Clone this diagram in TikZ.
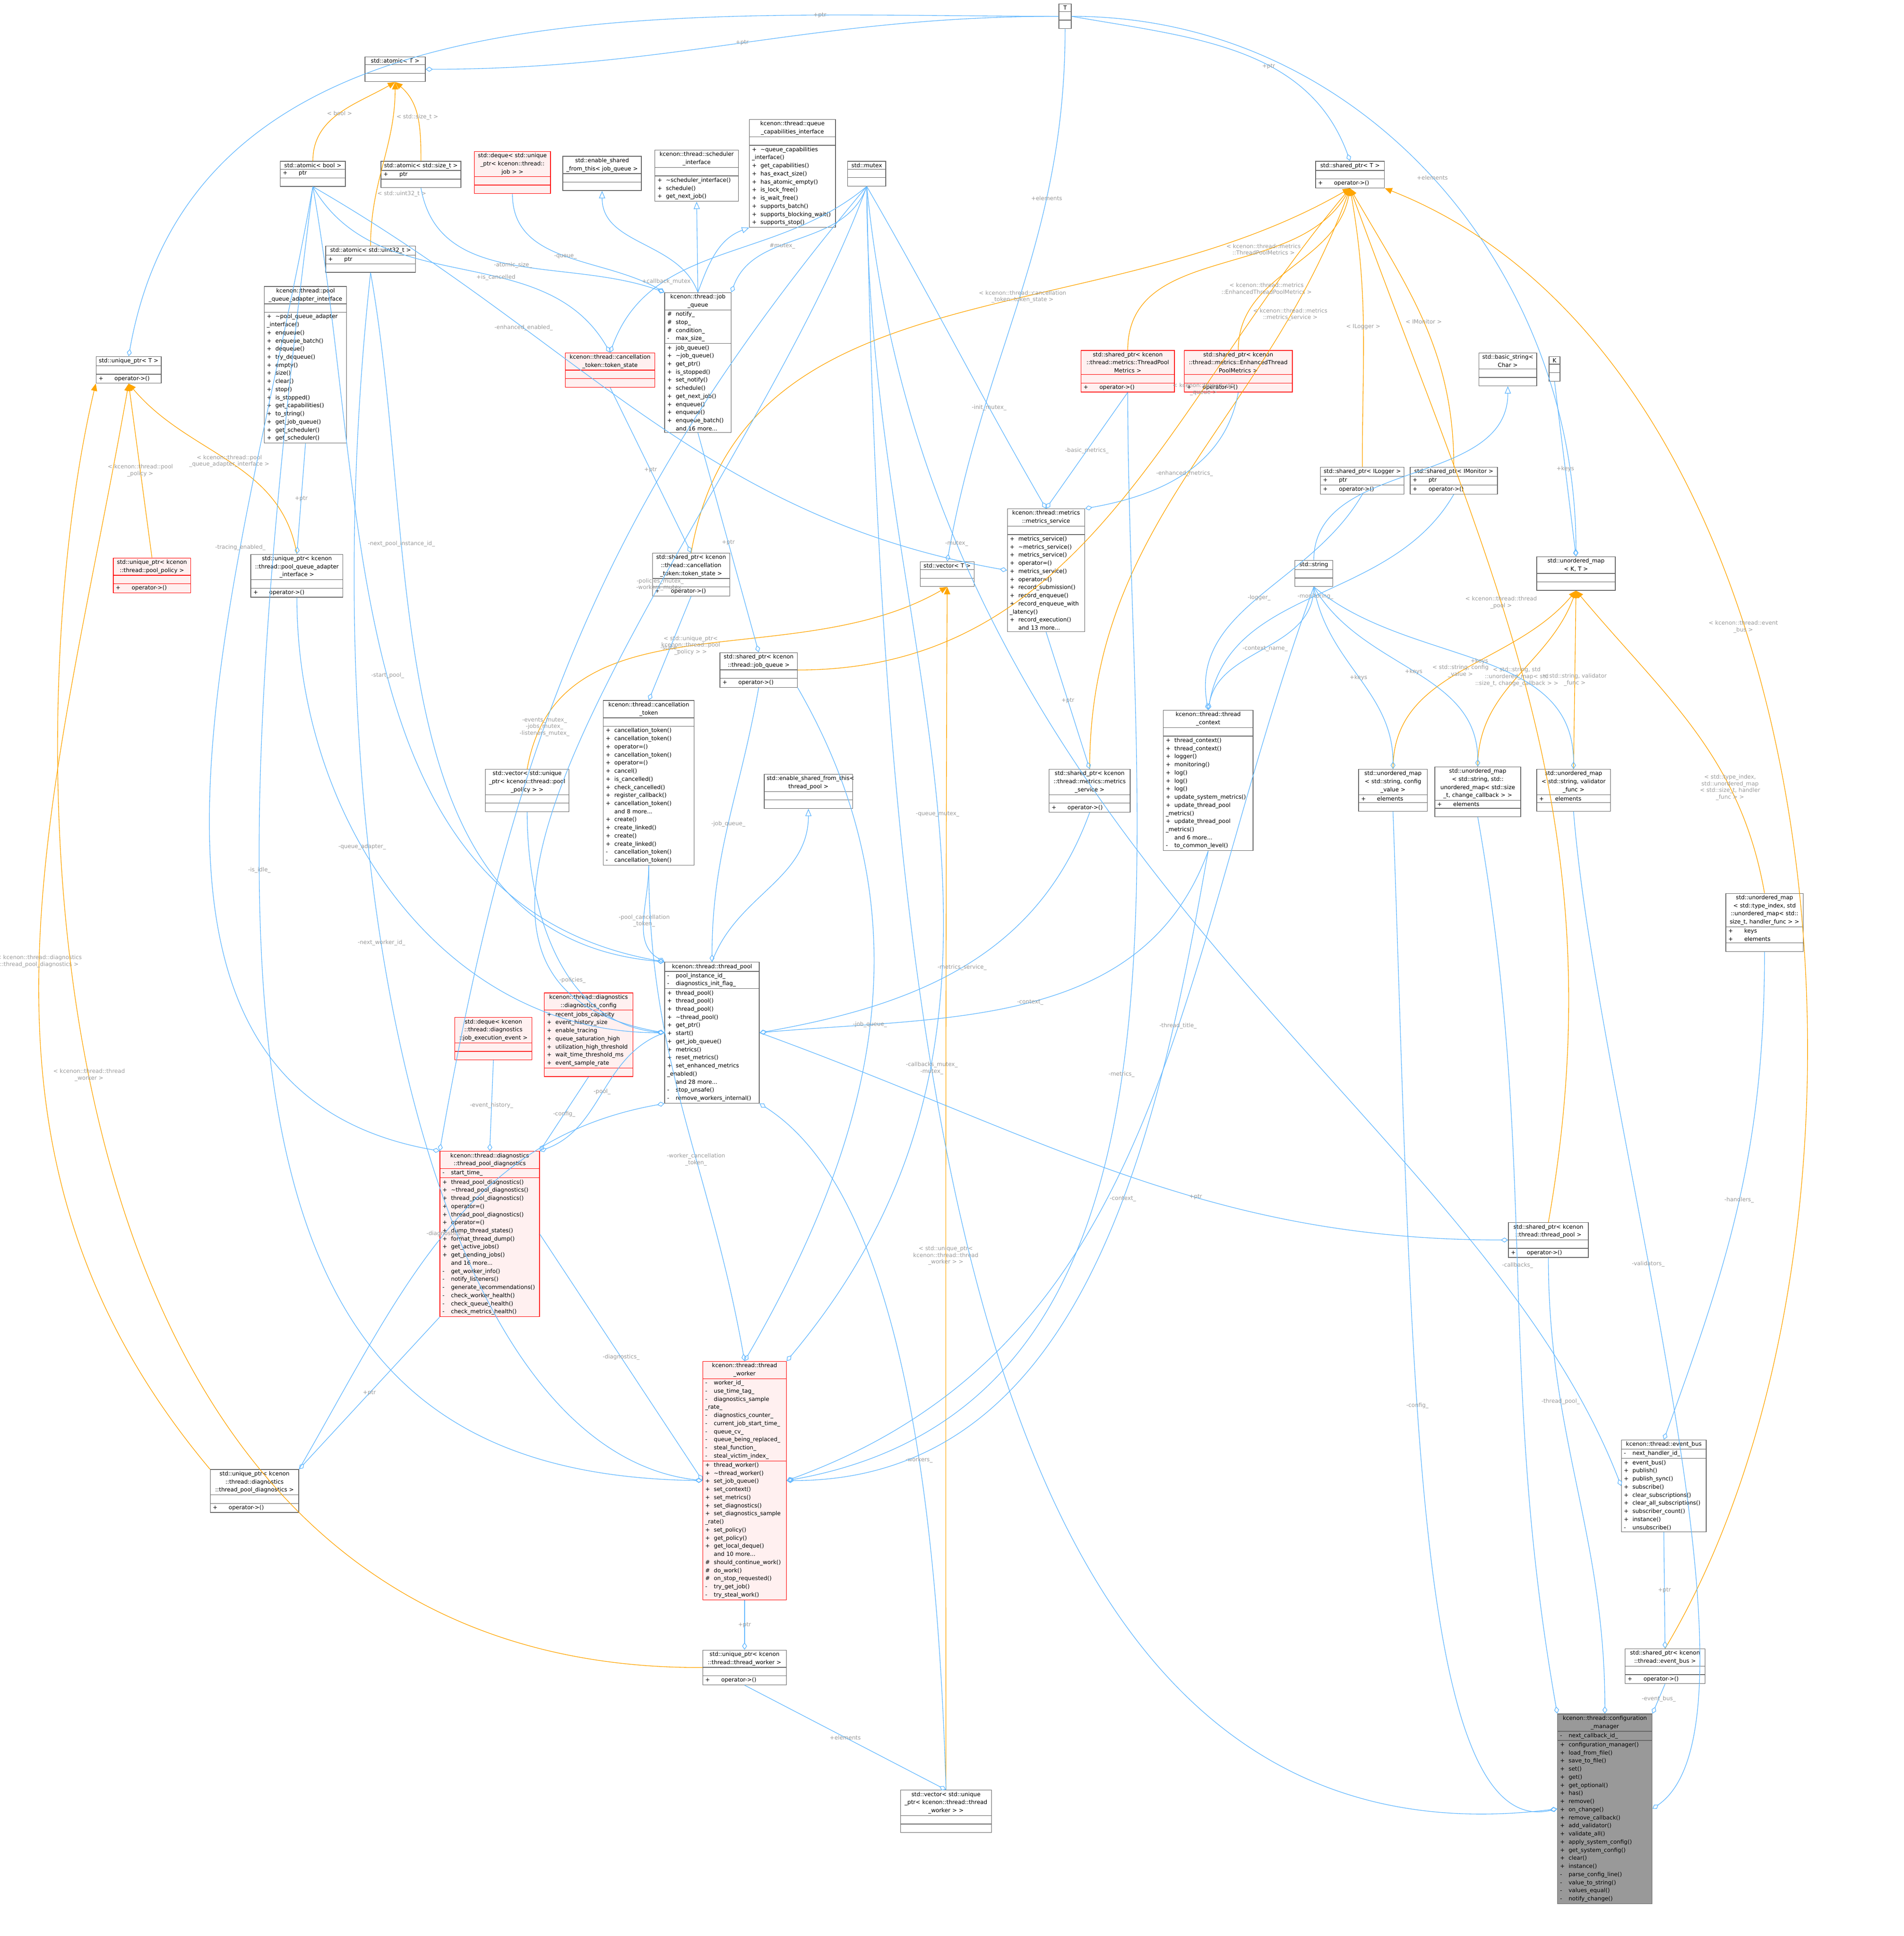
\documentclass[tikz,border=0pt]{standalone}
\usepackage{fontspec}
\setmainfont{DejaVu Sans}
\usetikzlibrary{shapes.multipart,arrows.meta}
\definecolor{edgeblue}{HTML}{63B8FF}
\definecolor{tplorange}{HTML}{FFA500}
\definecolor{boxgray}{HTML}{666666}
\definecolor{hotfill}{HTML}{FFF0F0}
\definecolor{curfill}{HTML}{999999}
\definecolor{lblgray}{HTML}{9A9A9A}
\newcommand\mb[2]{\makebox[7pt][l]{#1}#2\par}
\newcommand\emp{\rule{0pt}{4pt}}
\newcommand\cls[8]{\node[#2,text width=\dimexpr#5pt-4pt\relax] (#1) at (#3,#4)
  {{\centering #6\par}\nodepart{two}#7\nodepart{three}#8};}
\tikzset{every picture/.style={line width=0.5pt},
  box/.style={rectangle split,rectangle split parts=3,anchor=north west,draw=boxgray,fill=white,
    inner xsep=2pt,inner ysep=1.2pt,font=\fontsize{4.6}{6.6}\selectfont},
  cls/.style={box},
  hot/.style={box,draw=red,fill=hotfill},
  cur/.style={box,fill=curfill},
  use/.style={draw=edgeblue,-{Diamond[open,length=6pt,width=4pt]}},
  inh/.style={draw=edgeblue,-{Triangle[open,length=6pt,width=5pt]}},
  tpl/.style={draw=tplorange,-{Triangle[length=6pt,width=5pt]}},
  lbl/.style={font=\fontsize{4.6}{5.4}\selectfont,text=lblgray,align=center,inner sep=1pt}}
\begin{document}
\begin{tikzpicture}[x=1pt,y=-1pt]
\useasboundingbox (0,0) rectangle (1550,1576);

% classes, top row
\cls{T}{cls}{862}{3}{10}{T}{\emp}{\emp}
\cls{atomT}{cls}{297}{46}{49}{std::atomic< T >}{\emp}{\emp}
\cls{atomBool}{cls}{228}{131}{53}{std::atomic< bool >}{\mb{+}{\hspace{6pt}ptr}}{\emp}
\cls{atomSize}{cls}{310}{131}{65}{std::atomic< std::size\_t >}{\mb{+}{\hspace{6pt}ptr}}{\emp}
\cls{dequeJob}{hot}{386}{123}{62}{std::deque< std::unique\\\_ptr< kcenon::thread::\\job > >}{\emp}{\emp}
\cls{esfJQ}{cls}{458}{127}{64}{std::enable\_shared\\\_from\_this< job\_queue >}{\emp}{\emp}
\cls{sched}{cls}{533}{122}{68}{kcenon::thread::scheduler\\\_interface}{\emp}
 {\mb{+}{\textasciitilde scheduler\_interface()}\mb{+}{schedule()}\mb{+}{get\_next\_job()}}
\cls{qcap}{cls}{610}{97}{70}{kcenon::thread::queue\\\_capabilities\_interface}{\emp}
 {\mb{+}{\textasciitilde queue\_capabilities\\\_interface()}\mb{+}{get\_capabilities()}\mb{+}{has\_exact\_size()}
  \mb{+}{has\_atomic\_empty()}\mb{+}{is\_lock\_free()}\mb{+}{is\_wait\_free()}\mb{+}{supports\_batch()}
  \mb{+}{supports\_blocking\_wait()}\mb{+}{supports\_stop()}}
\cls{mutex}{cls}{690}{131}{31}{std::mutex}{\emp}{\emp}
\cls{spT}{cls}{1071}{131}{56}{std::shared\_ptr< T >}{\emp}{\mb{+}{\hspace{6pt}operator->()}}
\cls{atomU32}{cls}{265}{200}{73}{std::atomic< std::uint32\_t >}{\mb{+}{\hspace{6pt}ptr}}{\emp}
\cls{pqai}{cls}{215}{233}{67}{kcenon::thread::pool\\\_queue\_adapter\_interface}{\emp}
 {\mb{+}{\textasciitilde pool\_queue\_adapter\\\_interface()}\mb{+}{enqueue()}\mb{+}{enqueue\_batch()}
  \mb{+}{dequeue()}\mb{+}{try\_dequeue()}\mb{+}{empty()}\mb{+}{size()}\mb{+}{clear()}\mb{+}{stop()}
  \mb{+}{is\_stopped()}\mb{+}{get\_capabilities()}\mb{+}{to\_string()}\mb{+}{get\_job\_queue()}
  \mb{+}{get\_scheduler()}\mb{+}{get\_scheduler()}}
\cls{upT}{cls}{78}{290}{53}{std::unique\_ptr< T >}{\emp}{\mb{+}{\hspace{6pt}operator->()}}
\cls{cts}{hot}{460}{287}{73}{kcenon::thread::cancellation\\\_token::token\_state}{\emp}{\emp}
\cls{jq}{cls}{541}{238}{54}{kcenon::thread::job\\\_queue}
 {\mb{\#}{notify\_}\mb{\#}{stop\_}\mb{\#}{condition\_}\mb{-}{max\_size\_}}
 {\mb{+}{job\_queue()}\mb{+}{\textasciitilde job\_queue()}\mb{+}{get\_ptr()}\mb{+}{is\_stopped()}
  \mb{+}{set\_notify()}\mb{+}{schedule()}\mb{+}{get\_next\_job()}\mb{+}{enqueue()}\mb{+}{enqueue()}
  \mb{+}{enqueue\_batch()}\mb{}{and 16 more...}}
\cls{spTPM}{hot}{880}{285}{76}{std::shared\_ptr< kcenon\\::thread::metrics::ThreadPool\\Metrics >}{\emp}{\mb{+}{\hspace{6pt}operator->()}}
\cls{spETPM}{hot}{964}{285}{88}{std::shared\_ptr< kcenon\\::thread::metrics::EnhancedThread\\PoolMetrics >}{\emp}{\mb{+}{\hspace{6pt}operator->()}}
\cls{bstr}{cls}{1204}{287}{47}{std::basic\_string<\\Char >}{\emp}{\emp}
\cls{K}{cls}{1261}{290}{9}{K}{\emp}{\emp}
\cls{spLog}{cls}{1075}{380}{68}{std::shared\_ptr< ILogger >}{\mb{+}{\hspace{6pt}ptr}}{\mb{+}{\hspace{6pt}operator->()}}
\cls{spMon}{cls}{1148}{380}{71}{std::shared\_ptr< IMonitor >}{\mb{+}{\hspace{6pt}ptr}}{\mb{+}{\hspace{6pt}operator->()}}
\cls{ms}{cls}{820}{414}{63}{kcenon::thread::metrics\\::metrics\_service}{\emp}
 {\mb{+}{metrics\_service()}\mb{+}{\textasciitilde metrics\_service()}\mb{+}{metrics\_service()}
  \mb{+}{operator=()}\mb{+}{metrics\_service()}\mb{+}{operator=()}\mb{+}{record\_submission()}
  \mb{+}{record\_enqueue()}\mb{+}{record\_enqueue\_with\\\_latency()}\mb{+}{record\_execution()}\mb{}{and 13 more...}}
\cls{spCTS}{cls}{531}{450}{63}{std::shared\_ptr< kcenon\\::thread::cancellation\\\_token::token\_state >}{\emp}{\mb{+}{\hspace{6pt}operator->()}}
\cls{upPQA}{cls}{204}{451}{75}{std::unique\_ptr< kcenon\\::thread::pool\_queue\_adapter\\\_interface >}{\emp}{\mb{+}{\hspace{6pt}operator->()}}
\cls{upPol}{hot}{92}{454}{63}{std::unique\_ptr< kcenon\\::thread::pool\_policy >}{\emp}{\mb{+}{\hspace{6pt}operator->()}}
\cls{vecT}{cls}{749}{457}{44}{std::vector< T >}{\emp}{\emp}
\cls{str}{cls}{1054}{456}{31}{std::string}{\emp}{\emp}
\cls{umKT}{cls}{1251}{453}{64}{std::unordered\_map\\< K, T >}{\emp}{\emp}
\cls{spJQ}{cls}{586}{531}{63}{std::shared\_ptr< kcenon\\::thread::job\_queue >}{\emp}{\mb{+}{\hspace{6pt}operator->()}}
\cls{ct}{cls}{491}{570}{74}{kcenon::thread::cancellation\\\_token}{\emp}
 {\mb{+}{cancellation\_token()}\mb{+}{cancellation\_token()}\mb{+}{operator=()}\mb{+}{cancellation\_token()}
  \mb{+}{operator=()}\mb{+}{cancel()}\mb{+}{is\_cancelled()}\mb{+}{check\_cancelled()}\mb{+}{register\_callback()}
  \mb{+}{cancellation\_token()}\mb{}{and 8 more...}\mb{+}{create()}\mb{+}{create\_linked()}\mb{+}{create()}
  \mb{+}{create\_linked()}\mb{-}{cancellation\_token()}\mb{-}{cancellation\_token()}}
\cls{tc}{cls}{947}{578}{73}{kcenon::thread::thread\\\_context}{\emp}
 {\mb{+}{thread\_context()}\mb{+}{thread\_context()}\mb{+}{logger()}\mb{+}{monitoring()}\mb{+}{log()}
  \mb{+}{log()}\mb{+}{log()}\mb{+}{update\_system\_metrics()}\mb{+}{update\_thread\_pool\\\_metrics()}
  \mb{+}{update\_thread\_pool\\\_metrics()}\mb{}{and 6 more...}\mb{-}{to\_common\_level()}}
\cls{esfTP}{cls}{622}{630}{72}{std::enable\_shared\_from\_this< thread\_pool >}{\emp}{\emp}
\cls{spMS}{cls}{854}{626}{66}{std::shared\_ptr< kcenon\\::thread::metrics::metrics\\\_service >}{\emp}{\mb{+}{\hspace{6pt}operator->()}}
\cls{vecPol}{cls}{395}{626}{68}{std::vector< std::unique\\\_ptr< kcenon::thread::pool\\\_policy > >}{\emp}{\emp}
\cls{umCfg}{cls}{1106}{626}{56}{std::unordered\_map\\< std::string, config\\\_value >}{\mb{+}{\hspace{6pt}elements}}{\emp}
\cls{umCb}{cls}{1168}{624}{70}{std::unordered\_map\\< std::string, std::\\unordered\_map< std::size\\\_t, change\_callback > >}{\mb{+}{\hspace{6pt}elements}}{\emp}
\cls{umVal}{cls}{1251}{626}{60}{std::unordered\_map\\< std::string, validator\\\_func >}{\mb{+}{\hspace{6pt}elements}}{\emp}
\cls{umH}{cls}{1405}{727}{63}{std::unordered\_map\\< std::type\_index, std\\::unordered\_map< std::\\size\_t, handler\_func > >}{\mb{+}{\hspace{6pt}keys}\mb{+}{\hspace{6pt}elements}}{\emp}
\cls{tp}{cls}{541}{783}{77}{kcenon::thread::thread\_pool}
 {\mb{-}{pool\_instance\_id\_}\mb{-}{diagnostics\_init\_flag\_}}
 {\mb{+}{thread\_pool()}\mb{+}{thread\_pool()}\mb{+}{thread\_pool()}\mb{+}{\textasciitilde thread\_pool()}
  \mb{+}{get\_ptr()}\mb{+}{start()}\mb{+}{get\_job\_queue()}\mb{+}{metrics()}\mb{+}{reset\_metrics()}
  \mb{+}{set\_enhanced\_metrics\\\_enabled()}\mb{}{and 28 more...}\mb{-}{stop\_unsafe()}\mb{-}{remove\_workers\_internal()}}
\cls{dqEv}{hot}{370}{828}{63}{std::deque< kcenon\\::thread::diagnostics\\::job\_execution\_event >}{\emp}{\emp}
\cls{dcfg}{hot}{443}{808}{72}{kcenon::thread::diagnostics\\::diagnostics\_config}
 {\mb{+}{recent\_jobs\_capacity}\mb{+}{event\_history\_size}\mb{+}{enable\_tracing}\mb{+}{queue\_saturation\_high}
  \mb{+}{utilization\_high\_threshold}\mb{+}{wait\_time\_threshold\_ms}\mb{+}{event\_sample\_rate}}{\emp}
\cls{diag}{hot}{358}{937}{81}{kcenon::thread::diagnostics\\::thread\_pool\_diagnostics}
 {\mb{-}{start\_time\_}}
 {\mb{+}{thread\_pool\_diagnostics()}\mb{+}{\textasciitilde thread\_pool\_diagnostics()}\mb{+}{thread\_pool\_diagnostics()}
  \mb{+}{operator=()}\mb{+}{thread\_pool\_diagnostics()}\mb{+}{operator=()}\mb{+}{dump\_thread\_states()}
  \mb{+}{format\_thread\_dump()}\mb{+}{get\_active\_jobs()}\mb{+}{get\_pending\_jobs()}\mb{}{and 16 more...}
  \mb{-}{get\_worker\_info()}\mb{-}{notify\_listeners()}\mb{-}{generate\_recommendations()}
  \mb{-}{check\_worker\_health()}\mb{-}{check\_queue\_health()}\mb{-}{check\_metrics\_health()}}
\cls{spTP}{cls}{1228}{995}{65}{std::shared\_ptr< kcenon\\::thread::thread\_pool >}{\emp}{\mb{+}{\hspace{6pt}operator->()}}
\cls{tw}{hot}{572}{1108}{68}{kcenon::thread::thread\\\_worker}
 {\mb{-}{worker\_id\_}\mb{-}{use\_time\_tag\_}\mb{-}{diagnostics\_sample\\\_rate\_}\mb{-}{diagnostics\_counter\_}
  \mb{-}{current\_job\_start\_time\_}\mb{-}{queue\_cv\_}\mb{-}{queue\_being\_replaced\_}\mb{-}{steal\_function\_}
  \mb{-}{steal\_victim\_index\_}}
 {\mb{+}{thread\_worker()}\mb{+}{\textasciitilde thread\_worker()}\mb{+}{set\_job\_queue()}\mb{+}{set\_context()}
  \mb{+}{set\_metrics()}\mb{+}{set\_diagnostics()}\mb{+}{set\_diagnostics\_sample\\\_rate()}\mb{+}{set\_policy()}
  \mb{+}{get\_policy()}\mb{+}{get\_local\_deque()}\mb{}{and 10 more...}\mb{\#}{should\_continue\_work()}
  \mb{\#}{do\_work()}\mb{\#}{on\_stop\_requested()}\mb{-}{try\_get\_job()}\mb{-}{try\_steal\_work()}}
\cls{eb}{cls}{1320}{1172}{69}{kcenon::thread::event\_bus}
 {\mb{-}{next\_handler\_id\_}}
 {\mb{+}{event\_bus()}\mb{+}{publish()}\mb{+}{publish\_sync()}\mb{+}{subscribe()}\mb{+}{clear\_subscriptions()}
  \mb{+}{clear\_all\_subscriptions()}\mb{+}{subscriber\_count()}\mb{+}{instance()}\mb{-}{unsubscribe()}}
\cls{upDiag}{cls}{171}{1196}{72}{std::unique\_ptr< kcenon\\::thread::diagnostics\\::thread\_pool\_diagnostics >}{\emp}{\mb{+}{\hspace{6pt}operator->()}}
\cls{upTW}{cls}{572}{1343}{68}{std::unique\_ptr< kcenon\\::thread::thread\_worker >}{\emp}{\mb{+}{\hspace{6pt}operator->()}}
\cls{spEB}{cls}{1323}{1342}{65}{std::shared\_ptr< kcenon\\::thread::event\_bus >}{\emp}{\mb{+}{\hspace{6pt}operator->()}}
\cls{cm}{cur}{1268}{1395}{77}{kcenon::thread::configuration\\\_manager}
 {\mb{-}{next\_callback\_id\_}}
 {\mb{+}{configuration\_manager()}\mb{+}{load\_from\_file()}\mb{+}{save\_to\_file()}\mb{+}{set()}\mb{+}{get()}
  \mb{+}{get\_optional()}\mb{+}{has()}\mb{+}{remove()}\mb{+}{on\_change()}\mb{+}{remove\_callback()}
  \mb{+}{add\_validator()}\mb{+}{validate\_all()}\mb{+}{apply\_system\_config()}\mb{+}{get\_system\_config()}
  \mb{+}{clear()}\mb{+}{instance()}\mb{-}{parse\_config\_line()}\mb{-}{value\_to\_string()}\mb{-}{values\_equal()}
  \mb{-}{notify\_change()}}
\cls{vecTW}{cls}{733}{1457}{74}{std::vector< std::unique\\\_ptr< kcenon::thread::thread\\\_worker > >}{\emp}{\emp}

% template parameter links
\draw[use] (T.west) to[out=180,in=0] node[lbl]{+ptr} (atomT.east);
\draw[use] (T.west) to[out=180,in=80] node[lbl,pos=.2]{+ptr} (upT.north);
\draw[use] (T.east) to[out=-10,in=110] node[lbl,pos=.6]{+ptr} (spT.north);
\draw[use] (T.south) to[out=-90,in=80] node[lbl,pos=.3]{+elements} (vecT.north);
\draw[use] (T.east) to[out=0,in=90] node[lbl,pos=.5]{+elements} (umKT.north);
\draw[tpl] (atomBool.north) to[out=90,in=-150] node[lbl]{< bool >} (atomT.south);
\draw[tpl] (atomU32.north) to[out=90,in=-90] node[lbl,pos=.3,right]{< std::uint32\_t >} (atomT.south);
\draw[tpl] (atomSize.north) to[out=90,in=-40] node[lbl]{< std::size\_t >} (atomT.south);
\draw[tpl] (upPQA.north) to[out=100,in=-50] node[lbl]{< kcenon::thread::pool\\\_queue\_adapter\_interface >} (upT.south);
\draw[tpl] (upPol.north) -- node[lbl]{< kcenon::thread::pool\\\_policy >} (upT.south);
\draw[tpl] (upDiag.north west) to[out=130,in=-100] node[lbl]{< kcenon::thread::diagnostics\\::thread\_pool\_diagnostics >} (upT.south);
\draw[tpl] (upTW.west) .. controls (10,1360) and (10,600) .. node[lbl,pos=.55]{< kcenon::thread::thread\\\_worker >} (upT.south west);
\draw[tpl] (spTPM.north) to[out=90,in=-120] node[lbl,pos=.65]{< kcenon::thread::metrics\\::ThreadPoolMetrics >} (spT.south);
\draw[tpl] (spETPM.north) to[out=90,in=-100] node[lbl,pos=.35]{< kcenon::thread::metrics\\::EnhancedThreadPoolMetrics >} (spT.south);
\draw[tpl] (spLog.north) to[out=90,in=-80] node[lbl]{< ILogger >} (spT.south);
\draw[tpl] (spMon.north) to[out=90,in=-60] node[lbl]{< IMonitor >} (spT.south);
\draw[tpl] (spCTS.north) to[out=80,in=-150] node[lbl,pos=.6]{< kcenon::thread::cancellation\\\_token::token\_state >} (spT.south);
\draw[tpl] (spJQ.east) to[out=0,in=-130] node[lbl,pos=.7]{< kcenon::thread::job\\\_queue >} (spT.south);
\draw[tpl] (spMS.north) to[out=90,in=-110] node[lbl,pos=.8]{< kcenon::thread::metrics\\::metrics\_service >} (spT.south);
\draw[tpl] (spTP.north) to[out=80,in=-70] node[lbl,pos=.6]{< kcenon::thread::thread\\\_pool >} (spT.south);
\draw[tpl] (spEB.north) .. controls (1560,1000) and (1500,300) .. node[lbl,pos=.62]{< kcenon::thread::event\\\_bus >} (spT.south east);
\draw[tpl] (vecPol.north) to[out=80,in=-150] node[lbl]{< std::unique\_ptr<\\kcenon::thread::pool\\\_policy > >} (vecT.south);
\draw[tpl] (vecTW.north) .. controls (770,1100) and (770,700) .. node[lbl,pos=.4]{< std::unique\_ptr<\\kcenon::thread::thread\\\_worker > >} (vecT.south);
\draw[tpl] (umCfg.north) to[out=90,in=-130] node[lbl]{< std::string, config\\\_value >} (umKT.south);
\draw[tpl] (umCb.north) to[out=90,in=-110] node[lbl]{< std::string, std\\::unordered\_map< std\\::size\_t, change\_callback > >} (umKT.south);
\draw[tpl] (umVal.north) -- node[lbl]{< std::string, validator\\\_func >} (umKT.south);
\draw[tpl] (umH.north) to[out=100,in=-50] node[lbl,pos=.3]{< std::type\_index,\\std::unordered\_map\\< std::size\_t, handler\\\_func > >} (umKT.south);

% inheritance
\draw[inh] (jq.north) -- (sched.south);
\draw[inh] (jq.north) to[out=70,in=200] (qcap.south west);
\draw[inh] (jq.north) to[out=110,in=-90] (esfJQ.south);
\draw[inh] (tp.north) to[out=70,in=-90] (esfTP.south);
\draw[inh] (str.north) to[out=90,in=-90] (bstr.south);

% members
\draw[use] (dequeJob.south) to[out=-90,in=150] node[lbl]{-queue\_} (jq.north west);
\draw[use] (atomSize.south) to[out=-80,in=160] node[lbl]{-atomic\_size\_} (jq.north west);
\draw[use] (atomBool.south) to[out=-60,in=120] node[lbl,pos=.6]{+is\_cancelled} (cts.north);
\draw[use] (mutex.south) to[out=-140,in=70] node[lbl,pos=.7]{+callback\_mutex} (cts.north);
\draw[use] (mutex.south) to[out=-110,in=70] node[lbl,pos=.6]{\#mutex\_} (jq.north east);
\draw[use] (pqai.south) -- node[lbl]{+ptr} (upPQA.north);
\draw[use] (cts.south) -- node[lbl]{+ptr} (spCTS.north);
\draw[use] (jq.south) -- node[lbl]{+ptr} (spJQ.north);
\draw[use] (spCTS.south) -- node[lbl]{-state\_} (ct.north);
\draw[use] (ms.south) -- node[lbl]{+ptr} (spMS.north);
\draw[use] (spTPM.south) -- node[lbl]{-basic\_metrics\_} (ms.north);
\draw[use] (spETPM.south) to[out=-100,in=10] node[lbl]{-enhanced\_metrics\_} (ms.north east);
\draw[use] (mutex.south) to[out=-60,in=120] node[lbl,pos=.7]{-init\_mutex\_} (ms.north);
\draw[use] (atomBool.south) to[out=-30,in=170] node[lbl,pos=.3]{-enhanced\_enabled\_} (ms.west);
\draw[use] (spLog.south) to[out=-120,in=100] node[lbl,pos=.5]{-logger\_} (tc.north);
\draw[use] (spMon.south) to[out=-120,in=80] node[lbl,pos=.5]{-monitoring\_} (tc.north);
\draw[use] (str.south) to[out=-90,in=80] node[lbl]{-context\_name\_} (tc.north);
\draw[use] (K.south) -- node[lbl]{+keys} (umKT.north);
\draw[use] (str.south) to[out=-80,in=90] node[lbl,pos=.5]{+keys} (umCfg.north);
\draw[use] (str.south) to[out=-60,in=90] node[lbl,pos=.5]{+keys} (umCb.north);
\draw[use] (str.south) to[out=-40,in=90] node[lbl,pos=.5]{+keys} (umVal.north);

% thread_pool members
\draw[use] (atomBool.south) to[out=-80,in=170] node[lbl,pos=.5]{-start\_pool\_} (tp.north west);
\draw[use] (atomU32.south) to[out=-80,in=175] node[lbl,pos=.3]{-next\_pool\_instance\_id\_} (tp.north west);
\draw[use] (upPQA.south) to[out=-90,in=180] node[lbl,pos=.4]{-queue\_adapter\_} (tp.west);
\draw[use] (vecPol.south) to[out=-90,in=175] node[lbl,pos=.6]{-policies\_} (tp.west);
\draw[use] (spJQ.south) to[out=-100,in=90] node[lbl,pos=.5]{-job\_queue\_} (tp.north);
\draw[use] (ct.south) to[out=-90,in=150] node[lbl,pos=.5]{-pool\_cancellation\\\_token\_} (tp.north west);
\draw[use] (mutex.south) to[out=-110,in=170] node[lbl,pos=.38]{-policies\_mutex\_\\-workers\_mutex\_} (tp.west);
\draw[use] (spMS.south) to[out=-110,in=10] node[lbl,pos=.5]{-metrics\_service\_} (tp.east);
\draw[use] (tc.south) to[out=-110,in=5] node[lbl,pos=.5]{-context\_} (tp.east);
\draw[use] (upDiag.north east) to[out=60,in=190] node[lbl,pos=.5]{-diagnostics\_} (tp.south west);
\draw[use] (vecTW.north) .. controls (760,1100) and (700,950) .. node[lbl,pos=.3]{-workers\_} (tp.south east);

% diagnostics members
\draw[use] (tp.west) to[out=200,in=20] node[lbl,pos=.5]{-pool\_} (diag.north east);
\draw[use] (dqEv.south) -- node[lbl]{-event\_history\_} (diag.north);
\draw[use] (dcfg.south) -- node[lbl]{-config\_} (diag.north east);
\draw[use] (atomBool.south) to[out=-100,in=170] node[lbl,pos=.3]{-tracing\_enabled\_} (diag.north west);
\draw[use] (mutex.south) to[out=-130,in=80] node[lbl,pos=.6]{-events\_mutex\_\\-jobs\_mutex\_\\-listeners\_mutex\_} (diag.north west);
\draw[use] (diag.south west) -- node[lbl]{+ptr} (upDiag.north east);

% thread_worker members
\draw[use] (diag.east) -- node[lbl,pos=.5]{-diagnostics\_} (tw.west);
\draw[use] (atomBool.south) .. controls (160,900) and (200,1200) .. node[lbl,pos=.3]{-is\_idle\_} (tw.west);
\draw[use] (atomU32.south) .. controls (250,700) and (350,1180) .. node[lbl,pos=.4]{-next\_worker\_id\_} (tw.west);
\draw[use] (mutex.south) to[out=-90,in=50] node[lbl,pos=.5]{-queue\_mutex\_} (tw.north east);
\draw[use] (spJQ.south east) to[out=-60,in=60] node[lbl,pos=.5]{-job\_queue\_} (tw.north);
\draw[use] (ct.south) to[out=-90,in=100] node[lbl,pos=.6]{-worker\_cancellation\\\_token\_} (tw.north);
\draw[use] (tc.south) to[out=-100,in=0] node[lbl,pos=.4]{-context\_} (tw.east);
\draw[use] (spTPM.south) to[out=-90,in=10] node[lbl,pos=.5]{-metrics\_} (tw.east);
\draw[use] (str.south) to[out=-110,in=20] node[lbl,pos=.4]{-thread\_title\_} (tw.east);
\draw[use] (tw.south) -- node[lbl]{+ptr} (upTW.north);
\draw[use] (upTW.south) -- node[lbl]{+elements} (vecTW.north);

% event bus and configuration manager
\draw[use] (tp.east) to[out=-20,in=180] node[lbl,pos=.6]{+ptr} (spTP.west);
\draw[use] (umH.south) to[out=-90,in=70] node[lbl]{-handlers\_} (eb.north);
\draw[use] (mutex.south) .. controls (760,700) and (1200,900) .. node[lbl,pos=.2]{-mutex\_} (eb.west);
\draw[use] (eb.south) -- node[lbl]{+ptr} (spEB.north);
\draw[use] (spEB.south) -- node[lbl]{-event\_bus\_} (cm.north east);
\draw[use] (spTP.south) to[out=-90,in=90] node[lbl,pos=.3]{-thread\_pool\_} (cm.north);
\draw[use] (umCfg.south) .. controls (1150,1100) and (1150,1500) .. node[lbl,pos=.4]{-config\_} (cm.west);
\draw[use] (umCb.south) to[out=-80,in=100] node[lbl,pos=.5]{-callbacks\_} (cm.north west);
\draw[use] (umVal.south) .. controls (1300,900) and (1450,1400) .. node[lbl,pos=.4]{-validators\_} (cm.east);
\draw[use] (mutex.south) .. controls (720,900) and (800,1530) .. node[lbl,pos=.35]{-callbacks\_mutex\_\\-mutex\_} (cm.west);
\end{tikzpicture}
\end{document}
